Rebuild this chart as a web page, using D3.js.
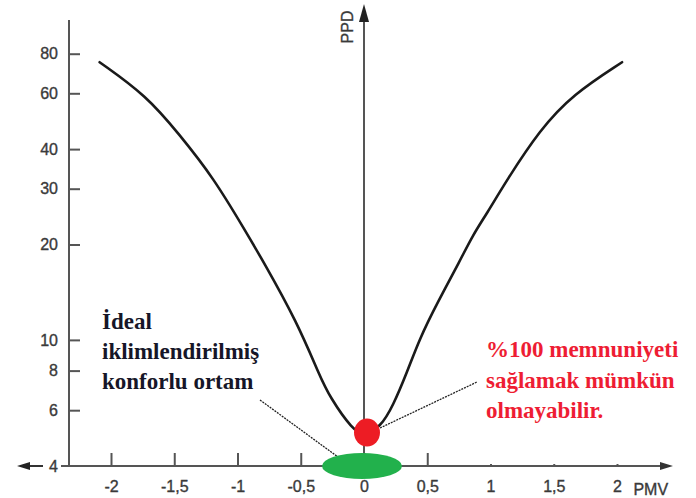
<!DOCTYPE html>
<html>
<head>
<meta charset="utf-8">
<script src="https://cdn.jsdelivr.net/npm/d3@7"></script>
<style>
  body { margin: 0; background: #fff; }
  svg { display: block; }
</style>
</head>
<body>
<div id="graph"></div>
<script>
// values (PMV -> PPD %)
const pmv = [-2.09, -1.72, -1.46, -1.19, -0.93, -0.8, -0.53, -0.35, -0.27, -0.09, 0, 0.13, 0.23, 0.34, 0.44, 0.58, 0.76, 0.86, 0.97, 1.13, 1.39, 1.65, 2.04];
const ppd = [75.2, 59, 44.5, 32.5, 21.8, 17.8, 11.4, 7.7, 6.6, 5.2, 5.0, 5.3, 6.2, 7.9, 10.1, 13.1, 17.8, 21.4, 25, 32, 46, 59.5, 75.2];
const xTicks = [-2, -1.5, -1, -0.5, 0, 0.5, 1, 1.5, 2];
const yTicks = [4, 6, 8, 10, 20, 30, 40, 60, 80];
const leftNote = ["İdeal", "iklimlendirilmiş", "konforlu ortam"];
const rightNote = ["%100 memnuniyeti", "sağlamak mümkün", "olmayabilir."];

const width = 696, height = 498;
const svg = d3.select("#graph").append("svg").attr("width", width).attr("height", height);

const x = d3.scaleLinear().domain([-2, 2]).range([111, 617]);
const y = d3.scaleLog().domain([4, 100]).range([466, 23]);
const axisColor = "#555";
const sans = "Liberation Sans, Arial, sans-serif";
const x0 = 69; // left axis position

const styleText = (sel) => sel.attr("font-family", sans).attr("font-size", 16).attr("fill", "#3a3a3a")
  .attr("stroke", "#3a3a3a").attr("stroke-width", 0.35);

// left y axis
const yAxis = svg.append("g").attr("transform", `translate(${x0},0)`)
  .call(d3.axisLeft(y).tickValues(yTicks).tickFormat(d3.format("d")).tickSizeInner(-11).tickSizeOuter(0).tickPadding(11));
yAxis.select(".domain").remove();
yAxis.selectAll("line").attr("stroke", axisColor).attr("stroke-width", 2);
yAxis.selectAll(".tick").filter((d) => d === 4).select("line").remove();
yAxis.selectAll("text").call(styleText);
svg.append("line").attr("x1", x0).attr("x2", x0).attr("y1", 20).attr("y2", y(4) + 1).attr("stroke", axisColor).attr("stroke-width", 2);

// bottom x axis, ticks pointing up
const xAxis = svg.append("g").attr("transform", `translate(0,${y(4)})`)
  .call(d3.axisBottom(x).tickValues(xTicks).tickFormat((d) => String(d).replace(".", ",")).tickSizeInner(-13).tickSizeOuter(0).tickPadding(15));
xAxis.select(".domain").remove();
xAxis.selectAll("line").attr("stroke", axisColor).attr("stroke-width", 2);
xAxis.selectAll(".tick").filter((d) => d >= 1).select("line").attr("y2", -2);
xAxis.selectAll("text").call(styleText);

svg.append("line").attr("x1", 61).attr("x2", 664).attr("y1", y(4)).attr("y2", y(4)).attr("stroke", axisColor).attr("stroke-width", 2);
svg.append("path").attr("d", `M673,${y(4)}L660,${y(4) - 4}L660,${y(4) + 4}Z`).attr("fill", "#333");
// left arrow beside the "4"
svg.append("line").attr("x1", 28).attr("x2", 43).attr("y1", y(4)).attr("y2", y(4)).attr("stroke", "#333").attr("stroke-width", 2);
svg.append("path").attr("d", `M17,${y(4)}L30,${y(4) - 4}L30,${y(4) + 4}Z`).attr("fill", "#222");
svg.append("text").attr("x", x(2.13)).attr("y", 495).call(styleText).text("PMV");

// central PPD axis
svg.append("line").attr("x1", x(0)).attr("x2", x(0)).attr("y1", 18).attr("y2", y(4)).attr("stroke", axisColor).attr("stroke-width", 2);
svg.append("path").attr("d", `M${x(0)},4L${x(0) - 5},22L${x(0) + 5},22Z`).attr("fill", "#222");
svg.append("text").attr("transform", `translate(${x(0) - 11},27) rotate(-90)`).attr("text-anchor", "middle")
  .call(styleText).text("PPD");

// curve
const pts = pmv.map((d, i) => [d, ppd[i]]);
const line = d3.line().x((d) => x(d[0])).y((d) => y(d[1])).curve(d3.curveBasis);
svg.append("path").datum(pts).attr("d", line).attr("fill", "none").attr("stroke", "#1a1a1a").attr("stroke-width", 2.6).attr("stroke-linecap", "round");

// annotation leaders
svg.append("line").attr("x1", 260).attr("y1", 400).attr("x2", 338).attr("y2", 457).attr("stroke", "#222").attr("stroke-width", 1.3).attr("stroke-dasharray", "2,1");
svg.append("line").attr("x1", 380).attr("y1", 428).attr("x2", 477).attr("y2", 382).attr("stroke", "#222").attr("stroke-width", 1.3).attr("stroke-dasharray", "2,1");

// markers
svg.append("ellipse").attr("cx", x(0) - 2).attr("cy", y(4)).attr("rx", 40).attr("ry", 13).attr("fill", "#22b14c");
svg.append("ellipse").attr("cx", x(0) + 3).attr("cy", y(5.1)).attr("rx", 13).attr("ry", 14).attr("fill", "#ed1c24");

// notes
const serif = "Liberation Serif, Times New Roman, serif";
svg.append("g").selectAll("text").data(leftNote).join("text")
  .attr("x", 102).attr("y", (d, i) => 329 + i * 30)
  .attr("font-family", serif).attr("font-weight", "bold").attr("font-size", 23).attr("fill", "#161628").text((d) => d);
svg.append("g").selectAll("text").data(rightNote).join("text")
  .attr("x", 486).attr("y", (d, i) => 357 + i * 30.5)
  .attr("font-family", serif).attr("font-weight", "bold").attr("font-size", 23).attr("fill", "#ee1d33").text((d) => d);
</script>
</body>
</html>
